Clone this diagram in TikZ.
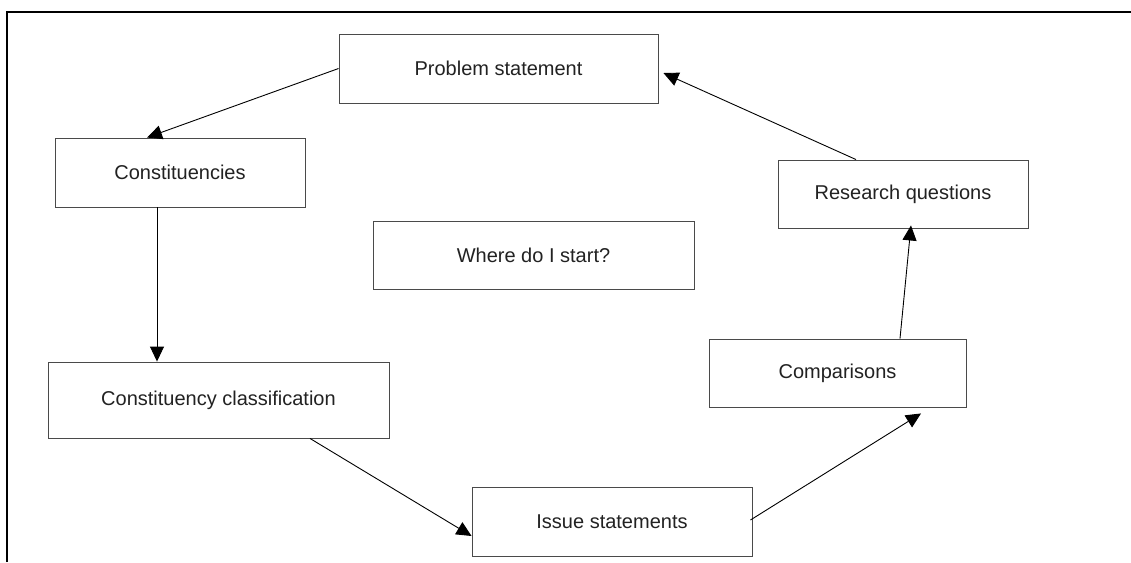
\documentclass[tikz,border=0pt]{standalone}
\usepackage{fontspec}
\setmainfont{Liberation Sans}
\usetikzlibrary{arrows.meta,calc}
\definecolor{boxline}{HTML}{4A4A4A}
\definecolor{inktext}{HTML}{222222}
\begin{document}
\begin{tikzpicture}[x=1pt,y=-1pt,
  stagebox/.style={draw=boxline,line width=0.9pt,fill=white,rectangle,
    inner sep=0pt,text=inktext,font=\fontsize{20}{24}\selectfont},
  flow/.style={draw=black,line width=0.9pt,-{Triangle[length=15pt,width=14pt]}}]
\useasboundingbox (0,0) rectangle (1131,562);
% frame along the top and left edges
\draw[line width=2pt] (7,562) -- (7,12) -- (1131,12);

% stages of the cycle
\node[stagebox,minimum width=319pt,minimum height=69pt] (ps)  at (498.5,68.5) {Problem statement};
\node[stagebox,minimum width=250pt,minimum height=69pt] (con) at (180,172.5)  {Constituencies};
\node[stagebox,minimum width=250pt,minimum height=68pt] (rq)  at (903,194)    {Research questions};
\node[stagebox,minimum width=321pt,minimum height=68pt] (ws)  at (533.5,255)  {Where do I start?};
\node[stagebox,minimum width=341pt,minimum height=76pt] (cls) at (218.5,400)  {Constituency classification};
\node[stagebox,minimum width=257pt,minimum height=68pt] (cmp) at (837.5,373)  {Comparisons};
\node[stagebox,minimum width=280pt,minimum height=69pt] (iss) at (612,521.5)  {Issue statements};

% arrows around the cycle
\draw[flow] (ps.west) -- ($(con.north)+(-33,0)$);
\draw[flow] ($(con.south)+(-23,0)$) -- ($(cls.north)+(-61.5,0)$);
\draw[flow] ($(cls.south)+(91.5,0)$) -- ($(iss.west)+(0,14.5)$);
\draw[flow] ($(iss.east)+(-2,-1.5)$) -- ($(cmp.south)+(83.5,6)$);
\draw[flow] ($(cmp.north)+(62.5,0)$) -- ($(rq.south)+(8,-3)$);
\draw[flow] ($(rq.north)+(-47,0)$) -- ($(ps.east)+(5,4.5)$);
\end{tikzpicture}
\end{document}
